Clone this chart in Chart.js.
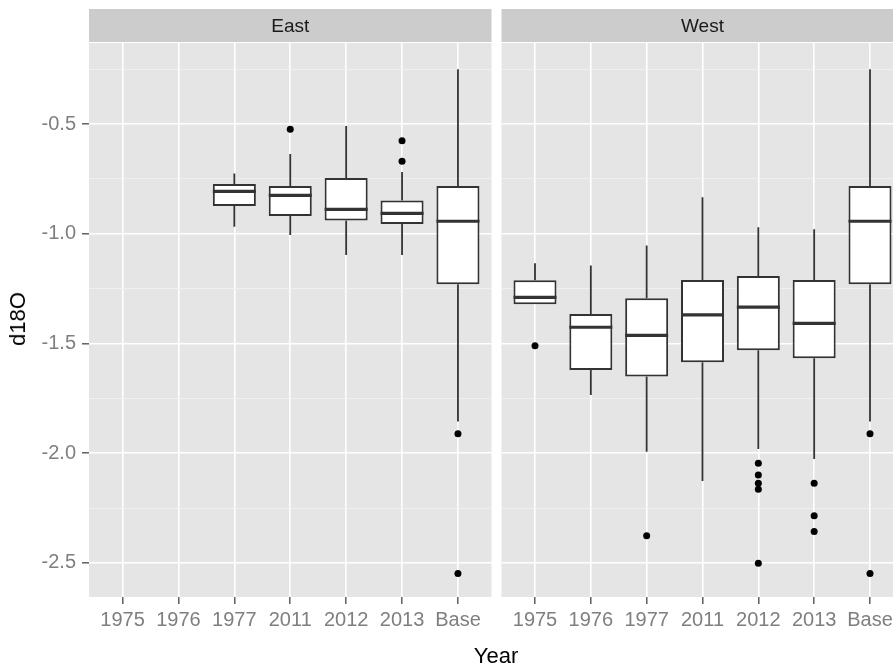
<!DOCTYPE html>
<html><head><meta charset="utf-8">
<script src="https://cdn.jsdelivr.net/npm/chart.js@4.4.1/dist/chart.umd.min.js"></script>
<style>
html,body{margin:0;padding:0;background:#fff;overflow:hidden;width:893px;height:664px;position:relative;}
#cEast{position:absolute;left:0;top:0;}
#cWest{position:absolute;left:498px;top:0;}
.ttl{position:absolute;font-family:"Liberation Sans",Arial,sans-serif;color:#000;font-size:22px;line-height:22px;white-space:nowrap;}
#xt{left:496px;top:645px;transform:translateX(-50%);}
#yt{left:17.5px;top:319px;transform:translate(-50%,-50%) rotate(-90deg);}
</style></head><body>
<canvas id="cEast" width="495" height="664"></canvas>
<canvas id="cWest" width="409" height="664"></canvas>
<div class="ttl" id="xt">Year</div>
<div class="ttl" id="yt">d18O</div>
<script>
const categories = ['1975','1976','1977','2011','2012','2013','Base'];
const yMajorTicks = [-2.5, -2.0, -1.5, -1.0, -0.5];
const yMinorTicks = [-2.25, -1.75, -1.25, -0.75, -0.25];
const yLimits = [-2.655, -0.131];

// East panel
const eastCats        = ['1977','2011','2012','2013','Base'];
const eastWhiskerHigh = [-0.725, -0.637, -0.509, -0.719, -0.251];
const eastQ3          = [-0.773, -0.782, -0.746, -0.849, -0.782];
const eastMedian      = [-0.807, -0.825, -0.889, -0.907, -0.943];
const eastQ1          = [-0.874, -0.919, -0.940, -0.956, -1.230];
const eastWhiskerLow  = [-0.968, -1.006, -1.097, -1.097, -1.855];
const eastOutlierCats = ['2011','2013','2013','Base','Base'];
const eastOutlierVals = [-0.524, -0.576, -0.670, -1.911, -2.548];

// West panel
const westCats        = ['1975','1976','1977','2011','2012','2013','Base'];
const westWhiskerHigh = [-1.135, -1.145, -1.054, -0.834, -0.971, -0.980, -0.251];
const westQ3          = [-1.212, -1.366, -1.294, -1.211, -1.192, -1.211, -0.782];
const westMedian      = [-1.290, -1.426, -1.463, -1.370, -1.334, -1.408, -0.943];
const westQ1          = [-1.321, -1.621, -1.650, -1.586, -1.531, -1.567, -1.230];
const westWhiskerLow  = [-1.321, -1.735, -1.993, -2.126, -1.981, -2.026, -1.855];
const westOutlierCats = ['1975','1977','2012','2012','2012','2012','2012','2013','2013','2013','Base','Base'];
const westOutlierVals = [-1.510, -2.376, -2.046, -2.099, -2.137, -2.164, -2.501, -2.137, -2.285, -2.357, -1.911, -2.548];

const FONT = '"Liberation Sans", Arial, sans-serif';
const LINE = '#333333';

function makePanel(canvasId, name, cats, wHigh, q3, med, q1, wLow, oCats, oVals, showY) {
  const pos = cats.map(c => categories.indexOf(c) + 1);
  const boxData = pos.map((p, i) => ({x: p, y: [q1[i], q3[i]]}));
  const outData = oCats.map((c, i) => ({x: categories.indexOf(c) + 1, y: oVals[i]}));
  const isMajor = v => yMajorTicks.includes(v);

  const panelPlugin = {
    id: 'panel' + name,
    beforeDraw(chart) {
      const {ctx, chartArea: a} = chart;
      ctx.save();
      ctx.fillStyle = '#E5E5E5';
      ctx.fillRect(a.left, a.top, a.right - a.left, a.bottom - a.top);
      ctx.fillStyle = '#CCCCCC';
      ctx.fillRect(a.left, 9, a.right - a.left, a.top - 1 - 9);
      ctx.fillStyle = '#1A1A1A';
      ctx.font = '19px ' + FONT;
      ctx.textAlign = 'center';
      ctx.textBaseline = 'middle';
      ctx.fillText(name, (a.left + a.right) / 2, (9 + a.top) / 2 + 1);
      ctx.restore();
    },
    beforeDatasetsDraw(chart) {
      const {ctx} = chart;
      const xs = chart.scales.x, ys = chart.scales.y;
      ctx.save();
      ctx.strokeStyle = LINE;
      ctx.lineWidth = 1.8;
      pos.forEach((p, i) => {
        const x = xs.getPixelForValue(p);
        ctx.beginPath();
        ctx.moveTo(x, ys.getPixelForValue(wHigh[i]));
        ctx.lineTo(x, ys.getPixelForValue(q3[i]));
        ctx.moveTo(x, ys.getPixelForValue(q1[i]));
        ctx.lineTo(x, ys.getPixelForValue(wLow[i]));
        ctx.stroke();
      });
      ctx.restore();
    },
    afterDatasetsDraw(chart) {
      const {ctx} = chart;
      const ys = chart.scales.y;
      const meta = chart.getDatasetMeta(0);
      ctx.save();
      ctx.strokeStyle = LINE;
      ctx.lineWidth = 3.2;
      meta.data.forEach((el, i) => {
        const y = ys.getPixelForValue(med[i]);
        ctx.beginPath();
        ctx.moveTo(el.x - el.width / 2, y);
        ctx.lineTo(el.x + el.width / 2, y);
        ctx.stroke();
      });
      ctx.restore();
    }
  };

  return new Chart(document.getElementById(canvasId), {
    type: 'bar',
    data: {
      datasets: [
        {type: 'bar', data: boxData, backgroundColor: '#FFFFFF', borderColor: LINE,
         borderWidth: 2, borderSkipped: false, barPercentage: 0.77, categoryPercentage: 1},
        {type: 'scatter', data: outData, pointRadius: 3.5, pointHoverRadius: 3.5,
         pointBackgroundColor: '#000000', pointBorderWidth: 0, showLine: false}
      ]
    },
    options: {
      responsive: false,
      animation: false,
      devicePixelRatio: 1,
      layout: {padding: {top: 43, right: 3.5, bottom: 0, left: 0}},
      plugins: {legend: {display: false}, tooltip: {enabled: false}},
      events: [],
      scales: {
        x: {
          type: 'linear', min: 0.4, max: 7.6, offset: false,
          afterBuildTicks: s => { s.ticks = categories.map((c, i) => ({value: i + 1})); },
          afterFit: s => { s.height = 67; },
          ticks: {callback: v => categories[Math.round(v) - 1], color: '#7F7F7F',
                  font: {family: FONT, size: 20}, padding: 4, maxRotation: 0, autoSkip: false},
          grid: {offset: false, color: '#FFFFFF', lineWidth: 1.6, tickColor: '#555555', tickLength: 7, tickWidth: 1.4},
          border: {display: false}
        },
        y: {
          type: 'linear', min: yLimits[0], max: yLimits[1],
          afterBuildTicks: s => { s.ticks = [...yMajorTicks, ...yMinorTicks].sort((a, b) => a - b).map(v => ({value: v})); },
          afterFit: s => { s.width = showY ? 89 : 0; },
          ticks: {display: showY, callback: v => isMajor(v) ? v.toFixed(1) : '', color: '#7F7F7F',
                  font: {family: FONT, size: 20}, padding: 6, autoSkip: false},
          grid: {
            color: c => isMajor(c.tick.value) ? '#FFFFFF' : '#F2F2F2',
            lineWidth: c => isMajor(c.tick.value) ? 1.6 : 0.8,
            drawTicks: showY,
            tickColor: c => isMajor(c.tick.value) ? '#555555' : 'rgba(0,0,0,0)',
            tickLength: 7, tickWidth: 1.4
          },
          border: {display: false}
        }
      }
    },
    plugins: [panelPlugin]
  });
}

makePanel('cEast', 'East', eastCats, eastWhiskerHigh, eastQ3, eastMedian, eastQ1, eastWhiskerLow, eastOutlierCats, eastOutlierVals, true);
makePanel('cWest', 'West', westCats, westWhiskerHigh, westQ3, westMedian, westQ1, westWhiskerLow, westOutlierCats, westOutlierVals, false);
</script>
</body></html>
